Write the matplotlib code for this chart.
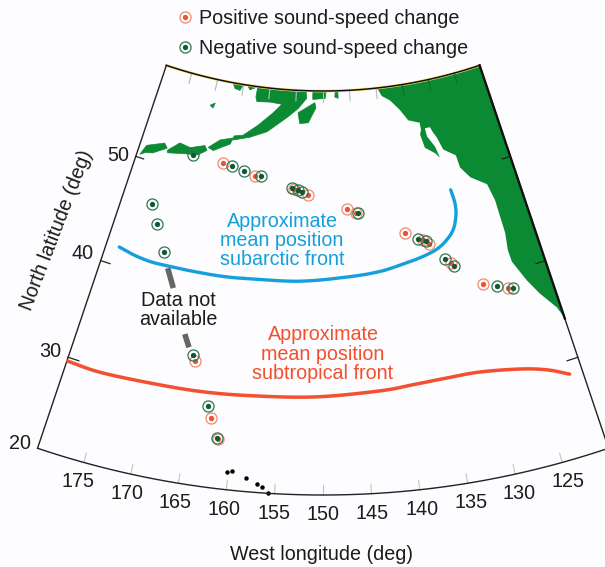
# -*- coding: utf-8 -*-
import numpy as np
import matplotlib
matplotlib.use("Agg")
import matplotlib.pyplot as plt
from matplotlib.legend_handler import HandlerTuple

plt.rcParams['font.family'] = ['Liberation Sans', 'DejaVu Sans']

# Estaciones (lon oeste, lat norte)
pos_lon = [166.2,160.9,154.5,152.3,146.4,145,138.1,135.7,134.9,132.4,128.8,125.7,165.4,162.6,161.5]
pos_lat = [51.4,50.7,49.8,49.3,48,47.6,45.3,44.5,44,42,39.5,38.5,32.7,27.2,25.2]
neg_lon = [171.3,164.7,162.7,159.9,154.9,153.9,153.3,144.7,136.4,135.3,133.1,132.1,127,125.1,175.5,174,172.1,165.8,163.1,161.6]
neg_lat = [51.6,51.3,51,50.7,49.8,49.7,49.5,47.5,44.6,44.3,42.4,41.7,38.9,38.4,46.3,44.7,42.4,33.2,28.4,25.2]

# Frentes
blue_lon = [178.2,176.1,173.6,171.1,167.7,163.6,159.9,153.1,146.3,142.2,139.3,136,133.5,131.4,130.4,130.1,130.3]
blue_lat = [41.7,41.4,41.2,41.2,41.2,41.2,41.3,41.4,41.8,42.1,42.5,43,43.6,44.7,46,47.2,48.5]
red_lon = [179.9,176,170.1,164.3,158.5,150.9,143.3,139.4,135.4,131.5,126.8,123.8,121.5]
red_lat = [29.6,29.5,29.7,29.8,30,30.2,30.6,30.9,31.1,31.1,30.5,29.7,28.6]

# Tramos sin datos
gap1_lon = [171.1,169.8]
gap1_lat = [41,39.3]
gap2_lon = [167.2,166.4]
gap2_lat = [35.1,33.9]

# Costas
haw_lon = [160.1,159.6,158.1,156.9,156.3,155.7]
haw_lat = [21.8,22,21.4,20.9,20.6,20.0]
main_lon = [139.8,139.1,137.7,136.2,135,133.1,133.1,133.4,133,131.5,130.9,131.3,132.3,132.4,131.5,131.2,130.7,130.1,128.3,128.1,126.9,124.7,124.2,124.1,124.4,124.3,123.1,122,120.5,120]
main_lat = [59,58.2,57.7,56.7,55.6,55.2,54.5,54.1,52.8,52.1,51.6,52.7,53.8,54.6,54.6,54.1,53.5,52.3,51.5,50.3,49.2,48.2,46.6,43.5,41.9,40.8,38.7,37.1,35.3,34.1]
ak_lon = [162.3,162.4,162.1,159.7,157.5,159,161.4,163.7,165.2,165.3,162.5,159.7,156.4,154.5,153,153.2,156.2,160.0]
ak_lat = [59,58,57.6,57.7,57.6,56.7,55.4,54.3,54.1,53.7,54.2,54.9,56.4,57.3,58.3,59,59,59.0]
kod_lon = [154.5,151.5,151.3,152.6,154.1]
kod_lat = [56.9,57.9,57.4,56,55.9]
b1_lon = [151.9,149.4,149.6,151.9]
b1_lat = [59,59,58.3,58.2]
b2_lon = [147.7,147.2,147.2,147.8]
b2_lat = [59,59,58.3,58.4]
b3_lon = [170.3,169.5,169.7]
b3_lat = [56.5,56.8,56.3]
b4_lon = [167,165.1,165.5,166.5]
b4_lat = [59,58.9,58.4,58.5]
b5_lon = [164.1,162.6,163.7]
b5_lat = [58.9,58.9,58.6]
a1_lon = [179.5,178.9,176.2,175.6,177.6,178.8]
a1_lat = [50.3,51.3,52,51.6,50.8,50.6]
a2_lon = [175.5,173.8,172,169.7,169.2,170.5,172.9,175.3]
a2_lat = [51.4,52.4,52.2,52.7,52.3,51.7,51.5,51.2]
a3_lon = [169.1,167.4,165.3,165.6,168.2]
a3_lat = [52.6,53.5,53.9,53.3,52.4]

lon_ticks = [175, 170, 165, 160, 155, 150, 145, 140, 135, 130, 125]
lat_ticks = [30, 40, 50]
lat_labels = [20, 30, 40, 50]

GREEN = '#0b8a33'
RED = '#f2502f'
BLUE = '#159fdc'
BG = '#fdfcfe'
INK = '#1c1c1c'
RING_POS = '#f08a6c'
RING_NEG = '#2f7550'
DOT_NEG = '#0b5a33'
RING_MS = 8
DOT_MS = 3.8


def project(lon, lat):
    """Proyección cónica a la escala de la figura."""
    theta = np.radians((np.asarray(lon, float) - 150) * 0.62)
    r = np.interp(lat, [20, 30, 40, 50, 59], [895, 799, 697, 587, 491])
    return 323 - r * np.sin(theta), -400 + r * np.cos(theta)


def smooth(x, y, n=10):
    """Curva Catmull-Rom que pasa por los puntos, solo para el trazo."""
    p = np.column_stack([x, y])
    p = np.vstack([2 * p[0] - p[1], p, 2 * p[-1] - p[-2]])
    t = np.linspace(0, 1, n, endpoint=False)[:, None]
    out = []
    for a, b, c, d in zip(p[:-3], p[1:-2], p[2:-1], p[3:]):
        out.append(0.5 * (2 * b + (c - a) * t + (2 * a - 5 * b + 4 * c - d) * t ** 2
                          + (3 * b - a - 3 * c + d) * t ** 3))
    out.append(p[-2][None, :])
    out = np.vstack(out)
    return out[:, 0], out[:, 1]


def draw_stations(ax, lon, lat, ring, dot):
    x, y = project(lon, lat)
    ax.plot(x, y, 'o', ms=RING_MS, mfc='none', mec=ring, mew=0.9, zorder=5)
    ax.plot(x, y, 'o', ms=DOT_MS, mfc=dot, mec='none', zorder=5)


fig = plt.figure(figsize=(6.05, 5.67), facecolor=BG)
ax = fig.add_axes([0, 0, 1, 1])
ax.set_xlim(0, 605)
ax.set_ylim(567, 0)
ax.axis('off')

# Tierra
arc = np.linspace(120, main_lon[0], 40)
land_x, land_y = project(list(main_lon) + [120] + list(arc),
                         list(main_lat) + [59] + [59] * len(arc))
ax.fill(land_x, land_y, color=GREEN, lw=0, zorder=1)
for lon, lat in [(ak_lon, ak_lat), (kod_lon, kod_lat), (b1_lon, b1_lat), (b2_lon, b2_lat),
                 (b3_lon, b3_lat), (b4_lon, b4_lat), (b5_lon, b5_lat),
                 (a1_lon, a1_lat), (a2_lon, a2_lat), (a3_lon, a3_lat)]:
    x, y = project(lon, lat)
    ax.fill(x, y, color=GREEN, lw=0.5, zorder=1)
x, y = project(haw_lon, haw_lat)
ax.plot(x, y, 'o', ms=3.2, color='black', mec='none', zorder=1)

# Marco
grid_lon = np.linspace(120, 180, 121)
x, y = project(grid_lon, np.full(121, 59.0))
ax.plot(x, y, color='#f5e27a', lw=2.0, zorder=2)
ax.plot(x, y, color='#111111', lw=1.1, zorder=3)
x, y = project(grid_lon, np.full(121, 20.0))
ax.plot(x, y, color='#222222', lw=1.0, zorder=3)
grid_lat = np.linspace(20, 59, 40)
x, y = project(np.full(40, 180.0), grid_lat)
ax.plot(x, y, color='#222222', lw=1.0, zorder=3)
x, y = project(np.full(40, 120.0), grid_lat)
ax.plot(x, y, color='#222222', lw=1.0, zorder=3)
x, y = project(np.full(26, 120.0), np.linspace(34, 59, 26))
ax.plot(x, y, color='#111111', lw=1.7, zorder=3)

# Marcas de los ejes
for lon in lon_ticks:
    x, y = project([lon, lon], [20, 21])
    ax.plot(x, y, color='#c4c4c4', lw=0.8, zorder=2)
    x, y = project([lon, lon], [59, 58])
    ax.plot(x, y, color='#b8b8b8' if lon > 135 else '#0a6e2a', lw=0.8, zorder=2)
    # etiqueta sobre la prolongación del meridiano
    x, y = project([lon], [20])
    ang = np.radians((lon - 150) * 0.62)
    ax.text(x[0] - 20 * np.sin(ang), y[0] + 20 * np.cos(ang), str(lon), fontsize=14.2,
            ha='center', va='center', color=INK)
for lat in lat_ticks:
    x, y = project([180, 178.7], [lat, lat])
    ax.plot(x, y, color='#222222', lw=0.9, zorder=3)
    x, y = project([120, 121.3], [lat, lat])
    ax.plot(x, y, color='#222222', lw=0.9, zorder=3)
for lat, dy in zip(lat_labels, [-5, -6, -7, -1]):
    x, y = project(180, lat)
    ax.text(x - 18, y + dy, str(lat), fontsize=14.2, ha='center', va='center', color=INK)

# Frentes y tramos sin datos
x, y = project(blue_lon, blue_lat)
ax.plot(*smooth(x, y), color=BLUE, lw=2.4, solid_capstyle='round', zorder=4)
x, y = project(red_lon, red_lat)
ax.plot(*smooth(x, y), color=RED, lw=2.5, solid_capstyle='round', zorder=4)
for lon, lat in [(gap1_lon, gap1_lat), (gap2_lon, gap2_lat)]:
    x, y = project(lon, lat)
    ax.plot(x, y, color='#666666', lw=4, solid_capstyle='butt', zorder=4)

draw_stations(ax, pos_lon, pos_lat, RING_POS, RED)
draw_stations(ax, neg_lon, neg_lat, RING_NEG, DOT_NEG)

# Textos
ax.text(282, 240.5, 'Approximate\nmean position\nsubarctic front', color=BLUE, fontsize=14.2,
        ha='center', va='center', linespacing=1.02)
ax.text(323, 354, 'Approximate\nmean position\nsubtropical front', color=RED, fontsize=14.2,
        ha='center', va='center', linespacing=1.04)
ax.text(178, 310, 'Data not\navailable', color=INK, fontsize=14.2,
        ha='center', va='center', linespacing=1.02)
ax.text(322, 554, 'West longitude (deg)', color=INK, fontsize=14.2, ha='center', va='center')
ax.text(57, 230, 'North latitude (deg)', color=INK, fontsize=14.2, ha='center', va='center',
        rotation=69, rotation_mode='anchor')

# Leyenda
h_pos = (plt.Line2D([], [], ls='', marker='o', ms=RING_MS, mfc='none', mec=RING_POS, mew=0.9),
         plt.Line2D([], [], ls='', marker='o', ms=DOT_MS, mfc=RED, mec='none'))
h_neg = (plt.Line2D([], [], ls='', marker='o', ms=RING_MS, mfc='none', mec=RING_NEG, mew=0.9),
         plt.Line2D([], [], ls='', marker='o', ms=DOT_MS, mfc=DOT_NEG, mec='none'))
ax.legend([h_pos, h_neg], ['Positive sound-speed change', 'Negative sound-speed change'],
          handler_map={tuple: HandlerTuple(ndivide=1, pad=0)},
          loc='upper left', bbox_to_anchor=(178, 8.5), bbox_transform=ax.transData,
          frameon=False, fontsize=14.2, labelcolor=INK, labelspacing=0.56,
          handlelength=0.7, handletextpad=0.36, borderpad=0, borderaxespad=0)

fig.savefig('out.png', dpi=100, facecolor=BG)
